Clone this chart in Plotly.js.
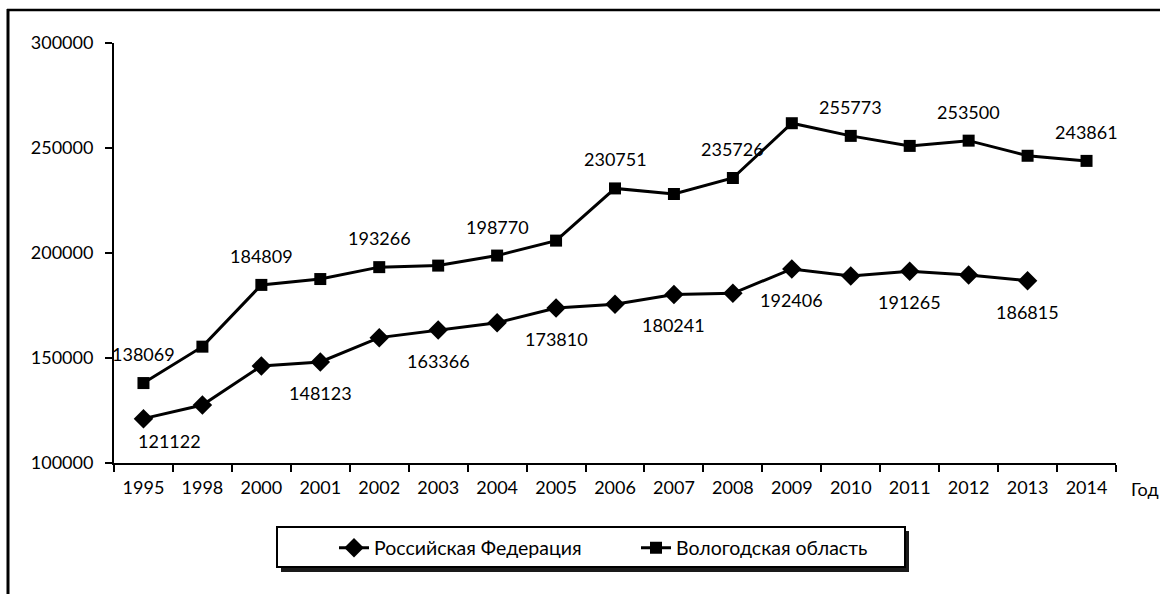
<!DOCTYPE html>
<html>
<head>
<meta charset="utf-8">
<script src="https://cdn.plot.ly/plotly-3.0.1.min.js"></script>
<style>
  html, body { margin: 0; padding: 0; background: #fff; }
  #chart { width: 1160px; height: 594px; }
</style>
</head>
<body>
<div id="chart"></div>
<script>
// ---- Data ----
var years = ['1995','1998','2000','2001','2002','2003','2004','2005','2006','2007','2008','2009','2010','2011','2012','2013','2014'];
var russia = [121122, 127600, 146200, 148123, 159700, 163366, 166800, 173810, 175600, 180241, 180800, 192406, 189000, 191265, 189500, 186815, null];
var vologda = [138069, 155400, 184809, 187600, 193266, 194000, 198770, 205900, 230751, 228100, 235726, 261800, 255773, 251000, 253500, 246300, 243861];
var russiaName = 'Российская Федерация';
var vologdaName = 'Вологодская область';
var russiaLabelYears = ['1995','2001','2003','2005','2007','2009','2011','2013'];
var vologdaLabelYears = ['1995','2000','2002','2004','2006','2008','2010','2012','2014'];
var xAxisLabel = 'Год';
var yTickVals = [100000, 150000, 200000, 250000, 300000];

// ---- Layout helpers (pixel -> paper) ----
var W = 1160, H = 594;
var M = {l: 114, r: 44, t: 43, b: 131};
var PW = W - M.l - M.r, PH = H - M.t - M.b;
function px(x) { return (x - M.l) / PW; }
function py(y) { return (H - M.b - y) / PH; }

var FONT = 'Lato, "Open Sans", "Noto Sans", sans-serif';

var traces = [
  {
    x: years, y: russia, name: russiaName, type: 'scatter', mode: 'lines+markers',
    line: {color: '#000', width: 3},
    marker: {symbol: 'diamond', size: 15, color: '#000'},
    connectgaps: false, hoverinfo: 'x+y'
  },
  {
    x: years, y: vologda, name: vologdaName, type: 'scatter', mode: 'lines+markers',
    line: {color: '#000', width: 3},
    marker: {symbol: 'square', size: 12, color: '#000'},
    hoverinfo: 'x+y'
  }
];

var annotations = [];
function addLabels(labelYears, values, dy, special) {
  labelYears.forEach(function (yr) {
    var i = years.indexOf(yr);
    var v = values[i];
    var s = (special && special[yr]) ? special[yr] : {dx: 0, dy: dy};
    annotations.push({
      x: i, y: v, xref: 'x', yref: 'y', text: String(v), showarrow: false,
      xanchor: 'center', yanchor: 'middle',
      xshift: s.dx, yshift: s.dy,
      font: {family: FONT, size: 18, color: '#000'}
    });
  });
}
addLabels(vologdaLabelYears, vologda, 29);
addLabels(russiaLabelYears, russia, -31, {'1995': {dx: 26, dy: -22}});

annotations.push({
  xref: 'paper', yref: 'paper', x: px(1129), y: py(489), xanchor: 'left', yanchor: 'middle',
  text: xAxisLabel, showarrow: false, font: {family: FONT, size: 18, color: '#000'}
});

var shapes = [
  // outer frame: left and top borders
  {type: 'line', xref: 'paper', yref: 'paper', x0: px(8), x1: px(8), y0: py(9), y1: py(600), line: {color: '#000', width: 3}},
  {type: 'line', xref: 'paper', yref: 'paper', x0: px(7), x1: px(1165), y0: py(10), y1: py(10), line: {color: '#000', width: 2.5}},
  // legend shadow and box
  {type: 'rect', xref: 'paper', yref: 'paper', x0: px(281), x1: px(909), y0: py(531), y1: py(572), line: {width: 0}, fillcolor: '#1a1a1a'},
  {type: 'rect', xref: 'paper', yref: 'paper', x0: px(277), x1: px(905), y0: py(527), y1: py(567), line: {color: '#000', width: 2}, fillcolor: '#fff'}
];

var layout = {
  width: W, height: H,
  margin: M,
  paper_bgcolor: '#fff', plot_bgcolor: '#fff',
  showlegend: true,
  legend: {
    orientation: 'h', xref: 'paper', yref: 'paper',
    x: px(334), y: py(548), xanchor: 'left', yanchor: 'middle',
    bgcolor: 'rgba(0,0,0,0)', borderwidth: 0,
    entrywidth: 257, entrywidthmode: 'pixels',
    font: {family: FONT, size: 19.5, color: '#000'}
  },
  xaxis: {
    type: 'category', range: [-0.5, 16.5], fixedrange: true,
    showline: true, linecolor: '#000', linewidth: 2,
    ticks: 'outside', tickson: 'boundaries', ticklen: 7, tickwidth: 2, tickcolor: '#000',
    showgrid: false, zeroline: false,
    tickfont: {family: FONT, size: 18, color: '#000'},
    ticklabelstandoff: 7
  },
  yaxis: {
    range: [100000, 300000], tickvals: yTickVals, tickformat: 'd', fixedrange: true,
    showline: true, linecolor: '#000', linewidth: 2,
    ticks: 'outside', ticklen: 7, tickwidth: 2, tickcolor: '#000',
    showgrid: false, zeroline: false,
    tickfont: {family: FONT, size: 18, color: '#000'},
    ticklabelstandoff: 8
  },
  annotations: annotations,
  shapes: shapes
};

Plotly.newPlot('chart', traces, layout, {displayModeBar: false, staticPlot: true});
</script>
</body>
</html>
